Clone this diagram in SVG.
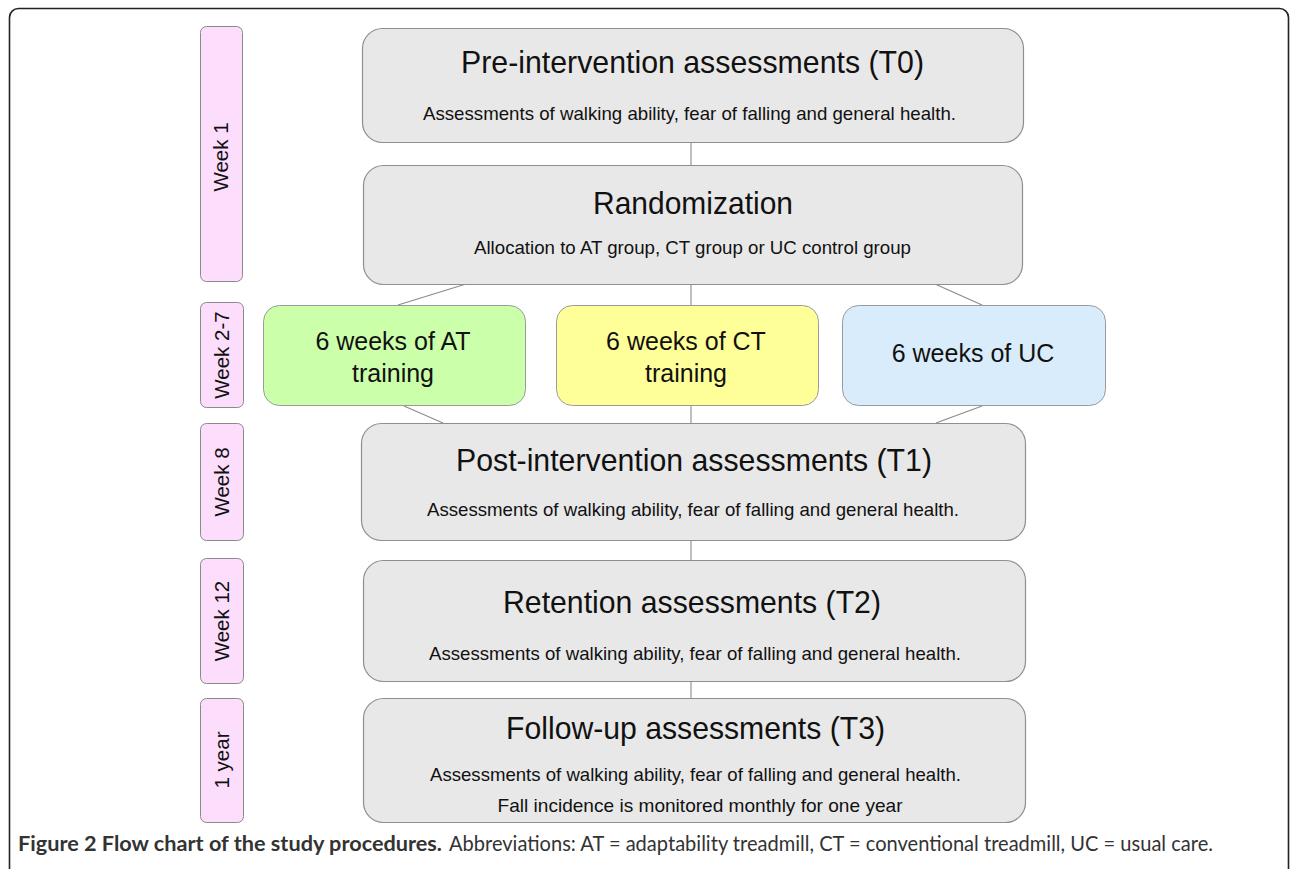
<svg xmlns="http://www.w3.org/2000/svg" width="1290" height="869" viewBox="0 0 1290 869">
<style>
.frame{fill:#fff;stroke:#222;stroke-width:1.6}
.wk{fill:#fcddfc;stroke:#8a8a8a;stroke-width:1}
.box{fill:#e8e8e8;stroke:#8f8f8f;stroke-width:1.2}
.at{fill:#ccffaa;stroke:#9a9a9a;stroke-width:1}
.ct{fill:#ffff99;stroke:#9a9a9a;stroke-width:1}
.uc{fill:#d9ecfb;stroke:#9a9a9a;stroke-width:1}
.ln{stroke:#8a8a8a;stroke-width:1.1;fill:none}
text{font-family:"Liberation Sans",Arial,sans-serif;fill:#111}
.t{font-size:32px;text-anchor:middle}
.s{font-size:19px;text-anchor:middle}
.g{font-size:25px;text-anchor:middle}
.w{font-size:20.5px;text-anchor:middle}
.cap{font-family:Lato,"Open Sans",sans-serif;font-size:21px;fill:#333}
</style>
<rect class="frame" x="9.5" y="8.5" width="1279" height="900" rx="9"/>

<g id="week1"><rect class="wk" x="200.5" y="26.5" width="42" height="255" rx="6"/><text class="w" transform="translate(228,157) rotate(-90)">Week 1</text></g>
<g id="week2-7"><rect class="wk" x="200.5" y="302.5" width="43" height="105" rx="6"/><text class="w" transform="translate(229,355) rotate(-90)">Week 2-7</text></g>
<g id="week8"><rect class="wk" x="200.5" y="423.5" width="43" height="117" rx="6"/><text class="w" transform="translate(229,482) rotate(-90)">Week 8</text></g>
<g id="week12"><rect class="wk" x="200.5" y="558.5" width="43" height="125" rx="6"/><text class="w" transform="translate(229,621) rotate(-90)">Week 12</text></g>
<g id="year1"><rect class="wk" x="200.5" y="698.5" width="43" height="124" rx="6"/><text class="w" transform="translate(229,760) rotate(-90)">1 year</text></g>

<g id="connectors">
<line class="ln" x1="691" y1="142" x2="691" y2="165"/>
<line class="ln" x1="466" y1="284" x2="398" y2="305"/>
<line class="ln" x1="691" y1="284" x2="691" y2="305"/>
<line class="ln" x1="935" y1="284" x2="982" y2="305"/>
<line class="ln" x1="404" y1="406" x2="443" y2="423"/>
<line class="ln" x1="691" y1="406" x2="691" y2="423"/>
<line class="ln" x1="982" y1="406" x2="936" y2="423"/>
<line class="ln" x1="691" y1="540" x2="691" y2="560"/>
<line class="ln" x1="691" y1="681" x2="691" y2="698"/>
</g>

<g id="pre"><rect class="box" x="362.5" y="28.5" width="661" height="114" rx="20"/>
<text class="t" x="692.5" y="73" textLength="463" lengthAdjust="spacingAndGlyphs">Pre-intervention assessments (T0)</text>
<text class="s" x="689.5" y="120" textLength="533" lengthAdjust="spacingAndGlyphs">Assessments of walking ability, fear of falling and general health.</text></g>

<g id="rand"><rect class="box" x="363.5" y="165.5" width="659" height="119" rx="20"/>
<text class="t" x="693" y="214" textLength="200" lengthAdjust="spacingAndGlyphs">Randomization</text>
<text class="s" x="692.5" y="254" textLength="437" lengthAdjust="spacingAndGlyphs">Allocation to AT group, CT group or UC control group</text></g>

<g id="at"><rect class="at" x="263.5" y="305.5" width="262" height="100" rx="16"/>
<text class="g" x="393" y="350">6 weeks of AT</text><text class="g" x="393" y="382">training</text></g>
<g id="ct"><rect class="ct" x="556.5" y="305.5" width="262" height="100" rx="16"/>
<text class="g" x="686" y="350">6 weeks of CT</text><text class="g" x="686" y="382">training</text></g>
<g id="uc"><rect class="uc" x="842.5" y="305.5" width="263" height="100" rx="16"/>
<text class="g" x="973" y="362">6 weeks of UC</text></g>

<g id="post"><rect class="box" x="361.5" y="423.5" width="664" height="117" rx="20"/>
<text class="t" x="694" y="471" textLength="476" lengthAdjust="spacingAndGlyphs">Post-intervention assessments (T1)</text>
<text class="s" x="693" y="516" textLength="532" lengthAdjust="spacingAndGlyphs">Assessments of walking ability, fear of falling and general health.</text></g>

<g id="ret"><rect class="box" x="363.5" y="560.5" width="662" height="121" rx="20"/>
<text class="t" x="692" y="613" textLength="378" lengthAdjust="spacingAndGlyphs">Retention assessments (T2)</text>
<text class="s" x="695" y="660" textLength="532" lengthAdjust="spacingAndGlyphs">Assessments of walking ability, fear of falling and general health.</text></g>

<g id="fu"><rect class="box" x="363.5" y="698.5" width="662" height="124" rx="20"/>
<text class="t" x="695.5" y="739" textLength="379" lengthAdjust="spacingAndGlyphs">Follow-up assessments (T3)</text>
<text class="s" x="695.5" y="781" textLength="531" lengthAdjust="spacingAndGlyphs">Assessments of walking ability, fear of falling and general health.</text>
<text class="s" x="700" y="812" textLength="405" lengthAdjust="spacingAndGlyphs">Fall incidence is monitored monthly for one year</text></g>

<g id="caption">
<text class="cap" x="18" y="851" font-weight="bold" fill="#222" textLength="424" lengthAdjust="spacingAndGlyphs">Figure 2 Flow chart of the study procedures.</text>
<text class="cap" x="449" y="851" textLength="764" lengthAdjust="spacingAndGlyphs">Abbreviations: AT = adaptability treadmill, CT = conventional treadmill, UC = usual care.</text>
</g>
</svg>
